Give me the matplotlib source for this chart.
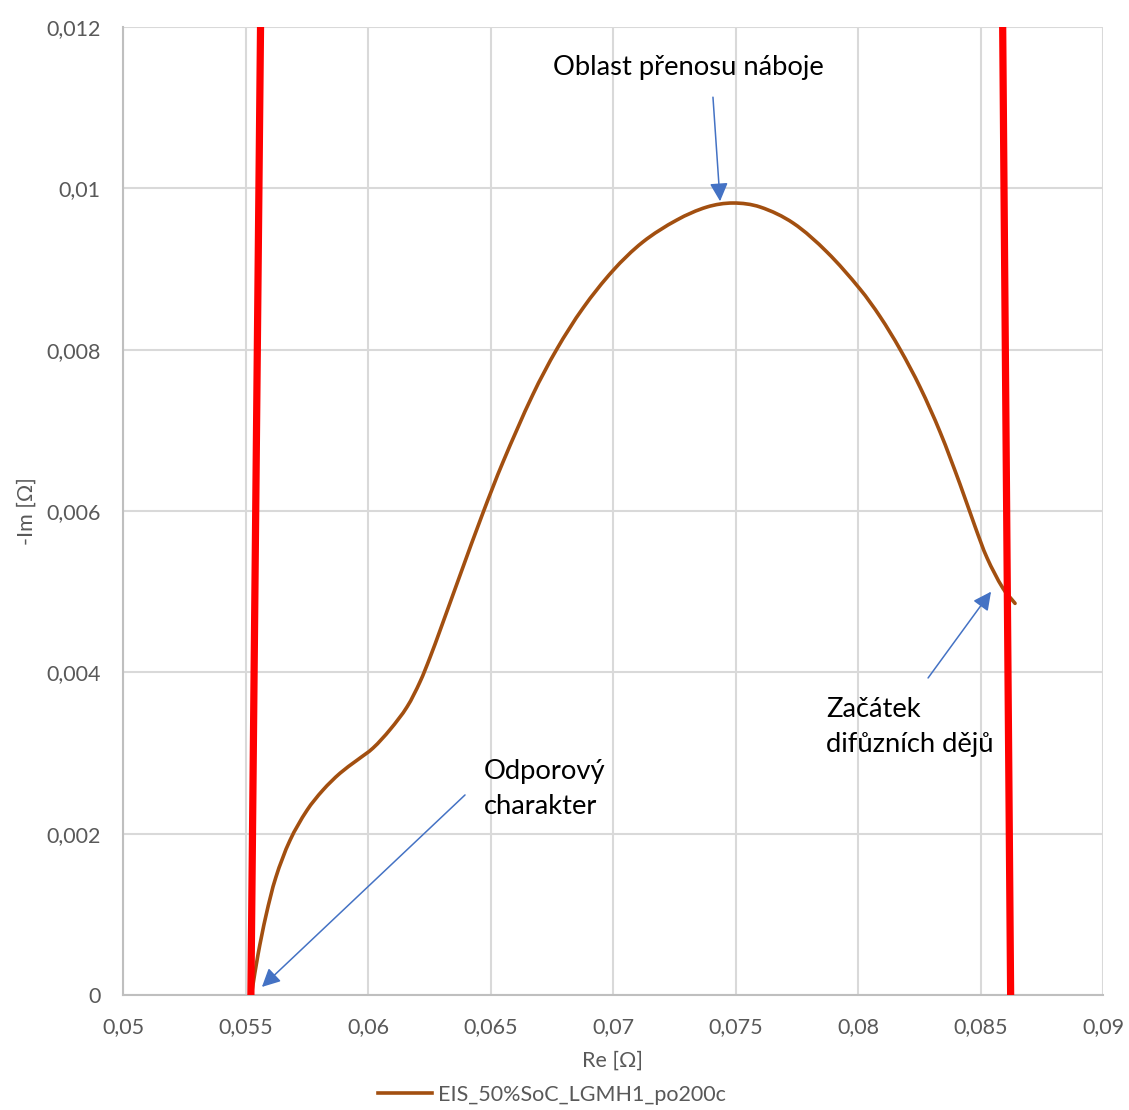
import math
import matplotlib
matplotlib.use("Agg")
import matplotlib.pyplot as plt
from matplotlib.path import Path
from matplotlib.patches import PathPatch
from matplotlib.lines import Line2D
from matplotlib.ticker import FuncFormatter, MultipleLocator

plt.rcParams['font.family'] = ['Lato', 'DejaVu Sans']

# Nyquist curve of the cell (Re, -Im) in ohms
re_vals = [0.05527, 0.05551, 0.05584, 0.05624, 0.05682, 0.05751, 0.05816,
           0.05886, 0.05955, 0.06020, 0.06090, 0.06159, 0.06212, 0.06253,
           0.06294, 0.06376, 0.06469, 0.06551, 0.06673, 0.06771, 0.06878,
           0.07000, 0.07122, 0.07261, 0.07384, 0.07490, 0.07600, 0.07735,
           0.07873, 0.08008, 0.08090, 0.08171, 0.08253, 0.08335, 0.08416,
           0.08478, 0.08527, 0.08592, 0.08641]
im_vals = [0.000060, 0.000500, 0.000990, 0.001460, 0.001920, 0.002290,
           0.002540, 0.002750, 0.002910, 0.003060, 0.003290, 0.003570,
           0.003880, 0.004184, 0.004519, 0.005207, 0.005975, 0.006607,
           0.007444, 0.008008, 0.008517, 0.008981, 0.009335, 0.009608,
           0.009769, 0.009818, 0.009769, 0.009570, 0.009211, 0.008752,
           0.008410, 0.008008, 0.007537, 0.006979, 0.006335, 0.005805,
           0.005417, 0.005040, 0.004855]

# Boundary markers (x at bottom and top of the plot)
left_marker_x = [0.05522, 0.05562]
right_marker_x = [0.08623, 0.08590]
marker_y = [0.0, 0.0122]

series_label = "EIS_50%SoC_LGMH1_po200c"
series_color = '#a24f10'

X_RANGE = (0.05, 0.09)
Y_RANGE = (0.0, 0.012)


def smooth_path(xs, ys, sx, sy):
    """Smoothed Bezier path through the points; tangents are computed in a
    roughly isotropic space (scale sx, sy) and sized by the chord length."""
    pts = [(x * sx, y * sy) for x, y in zip(xs, ys)]
    n = len(pts)

    def unit(dx, dy):
        m = math.hypot(dx, dy) or 1.0
        return dx / m, dy / m

    tangents = []
    for i in range(n):
        a = pts[max(i - 1, 0)]
        b = pts[min(i + 1, n - 1)]
        tangents.append(unit(b[0] - a[0], b[1] - a[1]))

    verts = [pts[0]]
    codes = [Path.MOVETO]
    for i in range(n - 1):
        p1, p2 = pts[i], pts[i + 1]
        L = math.hypot(p2[0] - p1[0], p2[1] - p1[1]) / 3.0
        t1, t2 = tangents[i], tangents[i + 1]
        verts += [(p1[0] + t1[0] * L, p1[1] + t1[1] * L),
                  (p2[0] - t2[0] * L, p2[1] - t2[1] * L), p2]
        codes += [Path.CURVE4] * 3
    verts = [(u / sx, v / sy) for u, v in verts]
    return Path(verts, codes)


fig = plt.figure(figsize=(11.29, 11.10), dpi=100)
ax = fig.add_axes([123/1129, 1 - 995/1110, (1103-123)/1129, (995-27)/1110])

grid_c = '#d9d9d9'
text_c = '#595959'

sx = 980 / (X_RANGE[1] - X_RANGE[0])
sy = 968 / (Y_RANGE[1] - Y_RANGE[0])
ax.add_patch(PathPatch(smooth_path(re_vals, im_vals, sx, sy), facecolor='none',
                       edgecolor=series_color, lw=2.6, capstyle='round',
                       joinstyle='round', zorder=3))
ax.plot(left_marker_x, marker_y, color='#ff0000', lw=5.2, zorder=4,
        solid_capstyle='butt')
ax.plot(right_marker_x, marker_y, color='#ff0000', lw=5.2, zorder=4,
        solid_capstyle='butt')

ax.set_xlim(*X_RANGE)
ax.set_ylim(*Y_RANGE)
ax.xaxis.set_major_locator(MultipleLocator(0.005))
ax.yaxis.set_major_locator(MultipleLocator(0.002))


def comma_fmt(v, pos):
    if abs(v) < 1e-12:
        return '0'
    s = ('%.3f' % v).rstrip('0')
    return s.replace('.', ',')


ax.xaxis.set_major_formatter(FuncFormatter(comma_fmt))
ax.yaxis.set_major_formatter(FuncFormatter(comma_fmt))
ax.grid(True, color=grid_c, lw=1.5, zorder=0)
ax.set_axisbelow(True)
for side in ['top', 'right']:
    ax.spines[side].set_visible(False)
for side in ['left', 'bottom']:
    ax.spines[side].set_color('#bfbfbf')
    ax.spines[side].set_linewidth(1.5)
ax.tick_params(axis='both', length=0, labelsize=15.5, colors=text_c)
ax.tick_params(axis='y', pad=16)
ax.tick_params(axis='x', pad=16)

ax.set_xlabel('Re [Ω]', fontsize=15.5, color=text_c, labelpad=10)
ax.set_ylabel('-Im [Ω]', fontsize=15.5, color=text_c, labelpad=7)

arrow_kw = dict(arrowstyle='-|>,head_length=1.1,head_width=0.55',
                color='#4472c4', lw=1.1, shrinkA=0, shrinkB=0)

ax.annotate('', xy=(0.07437, 0.00984), xytext=(0.07408, 0.01113),
            arrowprops=arrow_kw, zorder=5)
ax.text(0.07306, 0.01150, 'Oblast přenosu náboje', fontsize=19.7,
        ha='center', va='center', color='black')

ax.annotate('', xy=(0.05567, 0.00010), xytext=(0.06396, 0.00248),
            arrowprops=arrow_kw, zorder=5)
ax.text(0.06473, 0.00255, 'Odporový\ncharakter', fontsize=19.7,
        ha='left', va='center', color='black', linespacing=1.5)

ax.annotate('', xy=(0.08543, 0.00500), xytext=(0.08286, 0.00393),
            arrowprops=arrow_kw, zorder=5)
ax.text(0.07869, 0.00332, 'Začátek\ndifůzních dějů', fontsize=19.7,
        ha='left', va='center', color='black', linespacing=1.5)

handle = Line2D([], [], color=series_color, lw=2.6)
leg = fig.legend([handle], [series_label], loc='center',
                 bbox_to_anchor=(552/1129, 1 - 1095/1110),
                 frameon=False, fontsize=15.5, handlelength=2.5,
                 handletextpad=0.25)
for t in leg.get_texts():
    t.set_color(text_c)

fig.savefig('out.png', dpi=100)
